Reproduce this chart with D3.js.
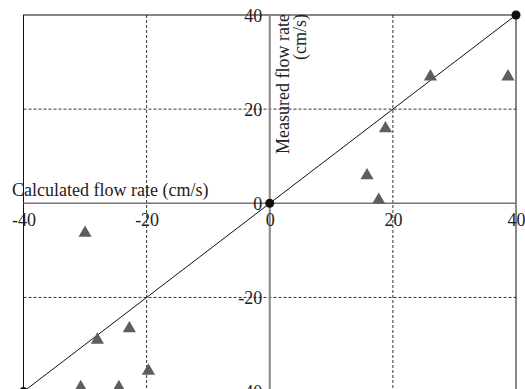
<!DOCTYPE html>
<html>
<head>
<meta charset="utf-8">
<script src="https://cdn.jsdelivr.net/npm/d3@7"></script>
<style>
html,body{margin:0;padding:0;background:#fff;overflow:hidden;}
svg{display:block;}
text{font-family:"Liberation Serif","Times New Roman",serif;font-size:18px;fill:#222;}
</style>
</head>
<body>
<script>
// Data
const calculated = [26.1, 38.7, 18.8, 15.8, 17.7, -30.0, -22.8, -28.0, -19.7, -30.7, -24.5];
const measured   = [27.0, 27.0, 16.0, 6.0, 0.8, -6.2, -26.5, -28.9, -35.5, -39.0, -39.0];
const refX = [-40, 40];           // 1:1 reference line
const refY = [-40, 40];
const dotX = [-40, 0, 40];        // black markers on reference line
const dotY = [-40, 0, 40];
const xTicks = [-40, -20, 0, 20, 40];
const yTicks = [-40, -20, 0, 20, 40];
const gridVals = [-20, 20];
const xTitle = "Calculated flow rate (cm/s)";
const yTitle = ["Measured flow rate", "(cm/s)"];

const W = 525, H = 389;
const svg = d3.select("body").append("svg").attr("width", W).attr("height", H);

const x = d3.scaleLinear().domain([-40, 40]).range([23.5, 516]);
const y = d3.scaleLinear().domain([-40, 40]).range([391.6, 15]);

// grid
const g = svg.append("g");
gridVals.forEach(v => {
  g.append("line").attr("x1", x(v)).attr("x2", x(v)).attr("y1", y(40)).attr("y2", y(-40))
    .attr("stroke", "#333").attr("stroke-width", 1).attr("stroke-dasharray", "3,2");
  g.append("line").attr("y1", y(v)).attr("y2", y(v)).attr("x1", x(-40)).attr("x2", x(40))
    .attr("stroke", "#333").attr("stroke-width", 1).attr("stroke-dasharray", "3,2");
});

// frame
svg.append("rect").attr("x", x(-40)).attr("y", y(40))
  .attr("width", x(40) - x(-40)).attr("height", y(-40) - y(40))
  .attr("fill", "none").attr("stroke", "#111").attr("stroke-width", 1);

// zero axes
svg.append("line").attr("x1", x(0)).attr("x2", x(0)).attr("y1", y(40)).attr("y2", y(-40))
  .attr("stroke", "#888").attr("stroke-width", 2);
svg.append("line").attr("x1", x(-40)).attr("x2", x(40)).attr("y1", y(0)).attr("y2", y(0))
  .attr("stroke", "#777").attr("stroke-width", 1.5);

// tick labels via d3 axes (no domain/tick lines)
const xAxis = d3.axisBottom(x).tickValues(xTicks).tickSize(0).tickPadding(0)
  .tickFormat(d => String(d));
const xa = svg.append("g").attr("transform", `translate(0,${y(0)})`).call(xAxis);
xa.select(".domain").remove();
xa.selectAll("text").attr("font-size", 18).attr("font-family", null).attr("y", 23).attr("dy", 0).attr("fill", "#222");

const yAxis = d3.axisLeft(y).tickValues(yTicks).tickSize(0).tickPadding(7.5)
  .tickFormat(d => String(d));
const ya = svg.append("g").attr("transform", `translate(${x(0)},0)`).call(yAxis);
ya.select(".domain").remove();
ya.selectAll("text").attr("font-size", 18).attr("font-family", null).attr("dy", 6).attr("fill", "#222");

// axis titles
svg.append("text").attr("x", 12).attr("y", 196).text(xTitle);
const yt = svg.append("text").attr("transform", `translate(289,14) rotate(-90)`)
  .attr("text-anchor", "end");
yt.append("tspan").attr("x", 0).attr("y", 0).text(yTitle[0]);
yt.append("tspan").attr("x", 0).attr("y", 17).text(yTitle[1]);

// reference line
svg.append("line").attr("x1", x(refX[0])).attr("y1", y(refY[0]))
  .attr("x2", x(refX[1])).attr("y2", y(refY[1]))
  .attr("stroke", "#111").attr("stroke-width", 1);

// triangles
const tri = d3.symbol().type(d3.symbolTriangle).size(75);
svg.append("g").selectAll("path").data(calculated.map((c, i) => [c, measured[i]]))
  .join("path")
  .attr("d", tri)
  .attr("transform", d => `translate(${x(d[0])},${y(d[1]) + 0.5})`)
  .attr("fill", "#5e5e5e");

// black dots
svg.append("g").selectAll("circle").data(dotX.map((d, i) => [d, dotY[i]]))
  .join("circle")
  .attr("cx", d => x(d[0])).attr("cy", d => y(d[1])).attr("r", 4.5)
  .attr("fill", "#111");
</script>
</body>
</html>
